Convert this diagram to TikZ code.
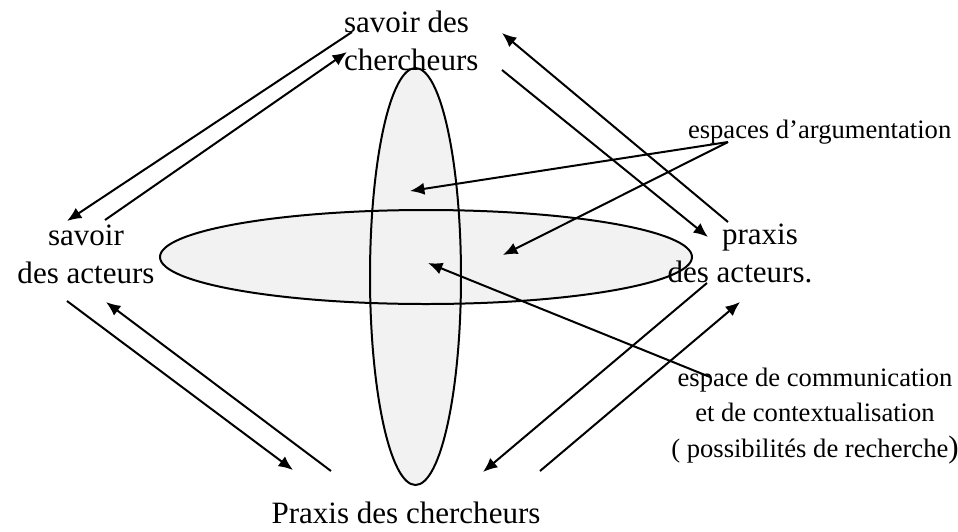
\documentclass[tikz,border=0pt]{standalone}
\usepackage{fontspec}
\setmainfont{Liberation Serif}
\usetikzlibrary{arrows.meta}
\definecolor{BlobGray}{RGB}{242,242,242}
\newcommand{\bigtxt}{\fontsize{14}{16.7}\selectfont}
\newcommand{\smalltxt}{\fontsize{12}{15.8}\selectfont}

\begin{document}
\begin{tikzpicture}[x=0.451pt,y=-0.451pt,>={Latex[length=6.5pt,width=5.5pt]},
    line width=0.9pt,
    pole/.style={inner sep=0pt,anchor=base,font=\bigtxt,align=center},
    note/.style={inner sep=0pt,anchor=base,font=\smalltxt,align=center}]
      \useasboundingbox (0,0) rectangle (958,531);
      % the two spaces
      \fill[BlobGray] (415.5,276.5) ellipse [x radius=45.5,y radius=208.5];
      \fill[BlobGray] (426,257) ellipse [x radius=266,y radius=47];
      \draw (415.5,276.5) ellipse [x radius=45.5,y radius=208.5];
      \draw (426,257) ellipse [x radius=266,y radius=47];
      % poles (base = last line)
      \node[pole,anchor=base west,align=left] (sc) at (343,70) {savoir des\\chercheurs};
      \node[pole] (sa) at (86,283) {savoir\\des acteurs};
      \node[pole] (pa) at (740,282) {\hspace*{18pt}praxis\\des acteurs.};
      \node[pole] (pc) at (406,523) {Praxis des chercheurs};
      \node[note,anchor=base west] (ea) at (687,138) {espaces d’argumentation};
      \node[note] (ec) at (815,457) {espace de communication\\et de contextualisation\\( possibilités de recherche{\bigtxt)}};
      % arrow ends
      \coordinate (sc1) at (352,32);  \coordinate (sa1) at (67,221);
      \coordinate (sa2) at (105,220); \coordinate (sc2) at (347,52);
      \coordinate (pa3) at (728,222); \coordinate (sc3) at (502,33);
      \coordinate (sc4) at (502,70);  \coordinate (pa4) at (708,237);
      \coordinate (sa5) at (67,301);  \coordinate (pc5) at (293,470);
      \coordinate (pc6) at (331,471); \coordinate (sa6) at (106,302);
      \coordinate (pa7) at (707,283); \coordinate (pc7) at (483,472);
      \coordinate (pc8) at (540,471); \coordinate (pa8) at (740,302);
      \coordinate (ea0) at (728,142);
      \coordinate (top) at (410,191); \coordinate (mid) at (503,255);
      \coordinate (ec0) at (710,377); \coordinate (cross) at (428,263);
      % exchanges
      \draw[->] (sc1) -- (sa1);
      \draw[->] (sa2) -- (sc2);
      \draw[->] (pa3) -- (sc3);
      \draw[->] (sc4) -- (pa4);
      \draw[->] (sa5) -- (pc5);
      \draw[->] (pc6) -- (sa6);
      \draw[->] (pa7) -- (pc7);
      \draw[->] (pc8) -- (pa8);
      \draw[->] (ea0) -- (top);
      \draw[->] (ea0) -- (mid);
      \draw[->] (ec0) -- (cross);
    \end{tikzpicture}
\end{document}
